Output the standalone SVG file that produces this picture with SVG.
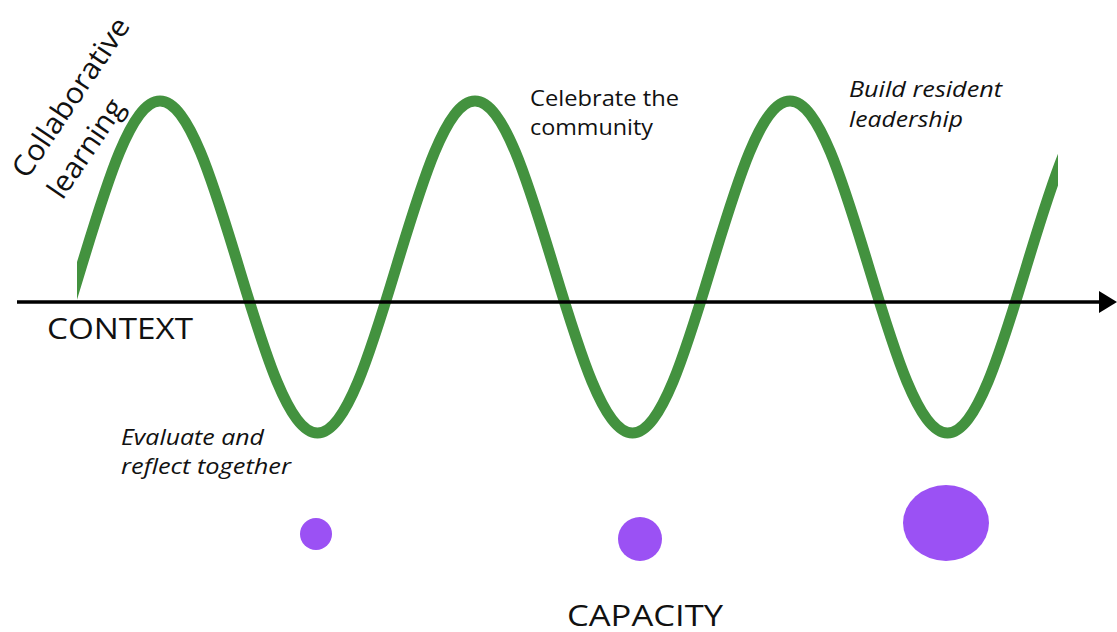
<svg xmlns="http://www.w3.org/2000/svg" width="1117" height="632" viewBox="0 0 1117 632">
  <style>
    .lbl { font-family: "Open Sans", Lato, "Liberation Sans", sans-serif; fill: #111; }
    .big { font-size: 30px; }
    .small { font-size: 21px; }
    .it { font-style: italic; }
    .dot { fill: #9B51F4; }
  </style>
  <defs>
    <clipPath id="waveClip"><rect x="77" y="0" width="981" height="632"/></clipPath>
  </defs>
  <rect width="1117" height="632" fill="#fff"/>
  <g id="wave" clip-path="url(#waveClip)">
    <path fill="none" stroke="#43923F" stroke-width="11" d="M2.5,433
      c28.5,0 53.07,-80.96 78.75,-166 c25.68,-85.04 50.25,-166 78.75,-166
      c28.5,0 53.07,80.96 78.75,166 c25.68,85.04 50.25,166 78.75,166
      c28.5,0 53.07,-80.96 78.75,-166 c25.68,-85.04 50.25,-166 78.75,-166
      c28.5,0 53.07,80.96 78.75,166 c25.68,85.04 50.25,166 78.75,166
      c28.5,0 53.07,-80.96 78.75,-166 c25.68,-85.04 50.25,-166 78.75,-166
      c28.5,0 53.07,80.96 78.75,166 c25.68,85.04 50.25,166 78.75,166
      c28.5,0 53.07,-80.96 78.75,-166 c25.68,-85.04 50.25,-166 78.75,-166"/>
  </g>
  <g id="connectors">
    <line x1="17" y1="302" x2="1100" y2="302" stroke="#000" stroke-width="3.5"/>
    <path d="M1099,291 L1117,302 L1099,313 z" fill="#000"/>
  </g>
  <g id="context"><text class="lbl big" x="47" y="339" textLength="146" lengthAdjust="spacingAndGlyphs">CONTEXT</text></g>
  <g id="capacity"><text class="lbl big" x="567" y="626" textLength="156" lengthAdjust="spacingAndGlyphs">CAPACITY</text></g>
  <g id="collab">
    <text class="lbl" font-size="29" text-anchor="middle" transform="translate(79,103) rotate(-56)" textLength="186" lengthAdjust="spacingAndGlyphs">Collaborative</text>
    <text class="lbl" font-size="29" text-anchor="middle" transform="translate(94,154) rotate(-56)" textLength="113" lengthAdjust="spacingAndGlyphs">learning</text>
  </g>
  <g id="evaluate">
    <text class="lbl small it" x="121" y="445" textLength="143" lengthAdjust="spacingAndGlyphs">Evaluate and</text>
    <text class="lbl small it" x="121" y="474" textLength="170" lengthAdjust="spacingAndGlyphs">reflect together</text>
  </g>
  <g id="celebrate">
    <text class="lbl small" x="530" y="106" textLength="149" lengthAdjust="spacingAndGlyphs">Celebrate the</text>
    <text class="lbl small" x="530" y="135" textLength="123" lengthAdjust="spacingAndGlyphs">community</text>
  </g>
  <g id="build">
    <text class="lbl small it" x="849" y="97" textLength="153" lengthAdjust="spacingAndGlyphs">Build resident</text>
    <text class="lbl small it" x="849" y="127" textLength="114" lengthAdjust="spacingAndGlyphs">leadership</text>
  </g>
  <g id="capacity-dots">
    <circle class="dot" cx="316" cy="534" r="16"/>
    <circle class="dot" cx="640" cy="539" r="22"/>
    <ellipse class="dot" cx="946" cy="523" rx="43" ry="38"/>
  </g>
</svg>
